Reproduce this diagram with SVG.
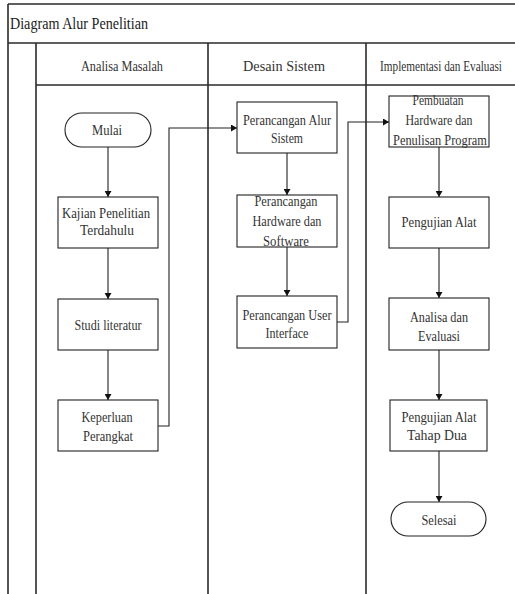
<svg xmlns="http://www.w3.org/2000/svg" width="515" height="594" viewBox="0 0 515 594">
<style>
.frame{stroke:#2a2a2a;stroke-width:1.6;fill:none}
.box{fill:#fff;stroke:#222;stroke-width:1.1}
.t{font-family:'Liberation Serif','Times New Roman','DejaVu Serif',serif;font-size:15px;fill:#333;text-anchor:middle}
.title{font-family:'Liberation Serif','Times New Roman','DejaVu Serif',serif;font-size:17px;fill:#222}
.conn{stroke:#222;stroke-width:1.1;fill:none;marker-end:url(#arr)}
</style>
<defs>
<marker id="arr" markerUnits="userSpaceOnUse" markerWidth="6" markerHeight="7" refX="6" refY="3.5" orient="auto">
<path d="M0,0 L6,3.5 L0,7 z" fill="#111"/>
</marker>
</defs>
<rect x="0" y="0" width="515" height="594" fill="#fff"/>
<g id="frame">
<line class="frame" x1="8" y1="4" x2="515" y2="4"/>
<line class="frame" x1="8" y1="4" x2="8" y2="594"/>
<line class="frame" x1="8" y1="43" x2="515" y2="43"/>
<line class="frame" x1="36" y1="85" x2="515" y2="85"/>
<line class="frame" x1="36" y1="43" x2="36" y2="594"/>
<line class="frame" x1="208" y1="43" x2="208" y2="594"/>
<line class="frame" x1="366" y1="43" x2="366" y2="594"/>
<text class="title" x="10" y="29" textLength="138" lengthAdjust="spacingAndGlyphs">Diagram Alur Penelitian</text>
<text class="t" x="122" y="71" textLength="82" lengthAdjust="spacingAndGlyphs">Analisa Masalah</text>
<text class="t" x="284" y="71" textLength="82" lengthAdjust="spacingAndGlyphs">Desain Sistem</text>
<text class="t" x="441" y="71" font-size="14" textLength="122" lengthAdjust="spacingAndGlyphs">Implementasi dan Evaluasi</text>
</g>
<g id="connectors">
<path class="conn" d="M108,147 L108,197"/>
<path class="conn" d="M108,248 L108,299"/>
<path class="conn" d="M108,350 L108,400"/>
<path class="conn" d="M158,426 L169,426 L169,128 L237,128"/>
<path class="conn" d="M287,153 L287,195"/>
<path class="conn" d="M287,247 L287,296"/>
<path class="conn" d="M337,322 L348,322 L348,122 L389,122"/>
<path class="conn" d="M439,147 L439,197"/>
<path class="conn" d="M439,248 L439,298"/>
<path class="conn" d="M439,350 L439,400"/>
<path class="conn" d="M439,451 L439,502"/>
</g>
<g id="mulai">
<rect class="box" x="65" y="113" width="86" height="34" rx="17"/>
<text class="t" x="107" y="135" textLength="30" lengthAdjust="spacingAndGlyphs">Mulai</text>
</g>
<g id="kajian">
<rect class="box" x="58" y="197" width="100" height="51"/>
<text class="t" x="106" y="218" textLength="88" lengthAdjust="spacingAndGlyphs">Kajian Penelitian</text>
<text class="t" x="107" y="235" textLength="54" lengthAdjust="spacingAndGlyphs">Terdahulu</text>
</g>
<g id="studi">
<rect class="box" x="58" y="299" width="100" height="51"/>
<text class="t" x="108" y="330" textLength="67" lengthAdjust="spacingAndGlyphs">Studi literatur</text>
</g>
<g id="keperluan">
<rect class="box" x="58" y="400" width="100" height="51"/>
<text class="t" x="107" y="422" textLength="51" lengthAdjust="spacingAndGlyphs">Keperluan</text>
<text class="t" x="108" y="441" textLength="50" lengthAdjust="spacingAndGlyphs">Perangkat</text>
</g>
<g id="perancangan-alur">
<rect class="box" x="237" y="102" width="100" height="51"/>
<text class="t" x="287" y="125" textLength="88" lengthAdjust="spacingAndGlyphs">Perancangan Alur</text>
<text class="t" x="287" y="143" textLength="32" lengthAdjust="spacingAndGlyphs">Sistem</text>
</g>
<g id="perancangan-hw">
<rect class="box" x="237" y="195" width="100" height="52"/>
<text class="t" x="286" y="206" textLength="63" lengthAdjust="spacingAndGlyphs">Perancangan</text>
<text class="t" x="287" y="226" textLength="69" lengthAdjust="spacingAndGlyphs">Hardware dan</text>
<text class="t" x="286" y="246" textLength="46" lengthAdjust="spacingAndGlyphs">Software</text>
</g>
<g id="perancangan-ui">
<rect class="box" x="237" y="296" width="100" height="52"/>
<text class="t" x="287" y="320" textLength="89" lengthAdjust="spacingAndGlyphs">Perancangan User</text>
<text class="t" x="287" y="338" textLength="43" lengthAdjust="spacingAndGlyphs">Interface</text>
</g>
<g id="pembuatan">
<rect class="box" x="389" y="96" width="100" height="51"/>
<text class="t" x="438" y="105" textLength="51" lengthAdjust="spacingAndGlyphs">Pembuatan</text>
<text class="t" x="439" y="125" textLength="67" lengthAdjust="spacingAndGlyphs">Hardware dan</text>
<text class="t" x="440" y="145" textLength="94" lengthAdjust="spacingAndGlyphs">Penulisan Program</text>
</g>
<g id="pengujian">
<rect class="box" x="389" y="197" width="100" height="51"/>
<text class="t" x="439" y="227" textLength="75" lengthAdjust="spacingAndGlyphs">Pengujian Alat</text>
</g>
<g id="analisa">
<rect class="box" x="389" y="298" width="100" height="52"/>
<text class="t" x="439" y="322" textLength="58" lengthAdjust="spacingAndGlyphs">Analisa dan</text>
<text class="t" x="439" y="341" textLength="42" lengthAdjust="spacingAndGlyphs">Evaluasi</text>
</g>
<g id="pengujian-dua">
<rect class="box" x="390" y="400" width="97" height="51"/>
<text class="t" x="439" y="422" textLength="75" lengthAdjust="spacingAndGlyphs">Pengujian Alat</text>
<text class="t" x="437" y="440" textLength="60" lengthAdjust="spacingAndGlyphs">Tahap Dua</text>
</g>
<g id="selesai">
<rect class="box" x="391" y="502" width="95" height="34" rx="17"/>
<text class="t" x="439" y="525" textLength="35" lengthAdjust="spacingAndGlyphs">Selesai</text>
</g>
</svg>
